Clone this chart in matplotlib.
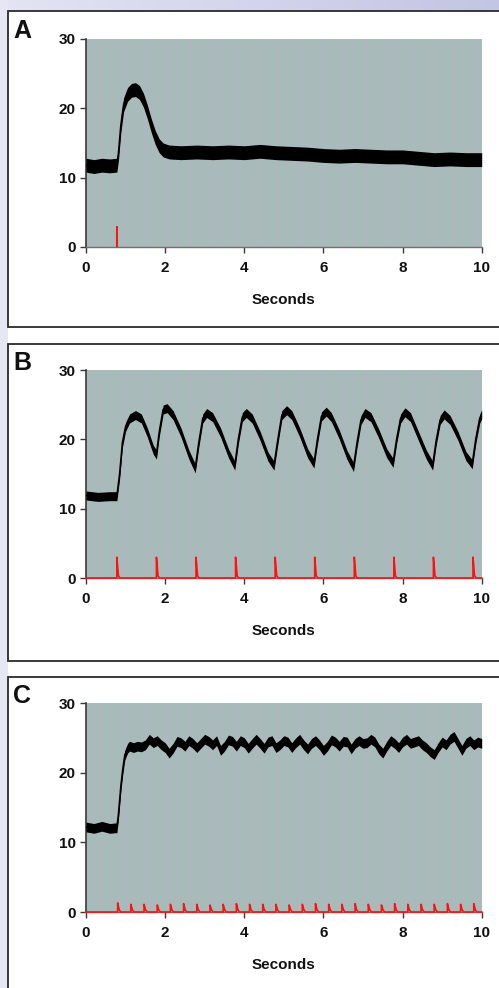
import numpy as np
import matplotlib
matplotlib.use("Agg")
from matplotlib import pyplot as plt
from matplotlib.patches import Rectangle

plt.rcParams['font.family'] = ['Liberation Sans', 'DejaVu Sans']

# --- panel A: single stimulus ---
tA = [0.0, 0.2, 0.4, 0.6, 0.78, 0.82, 0.88, 0.95, 1.05, 1.15, 1.25, 1.35, 1.45, 1.55,
      1.65, 1.75, 1.85, 1.95, 2.1, 2.4, 2.8, 3.2, 3.6, 4.0, 4.4, 4.8, 5.2, 5.6, 6.0,
      6.4, 6.8, 7.2, 7.6, 8.0, 8.4, 8.8, 9.2, 9.6, 10.0]
vA = [11.8, 11.6, 11.8, 11.7, 11.8, 13.5, 17.5, 20.5, 22.0, 22.6, 22.7, 22.3, 21.2, 19.5,
      17.5, 15.8, 14.6, 14.0, 13.7, 13.6, 13.7, 13.6, 13.7, 13.6, 13.8, 13.6, 13.5, 13.4, 13.2,
      13.1, 13.2, 13.1, 13.0, 13.0, 12.8, 12.6, 12.7, 12.6, 12.6]
stimA = [0.78]
stim_hA = [3.0]

# --- panel B: 1 Hz stimulation ---
tB = [0.0, 0.3, 0.6, 0.78, 0.85, 0.92, 1.0, 1.1, 1.25, 1.4, 1.55, 1.7, 1.78,
      1.85, 1.95, 2.05, 2.2, 2.4, 2.6, 2.76, 2.85, 2.95, 3.05, 3.2, 3.4, 3.6, 3.76,
      3.85, 3.95, 4.05, 4.2, 4.4, 4.6, 4.75, 4.85, 4.95, 5.07, 5.2, 5.4, 5.6, 5.76,
      5.85, 5.95, 6.07, 6.2, 6.4, 6.6, 6.76, 6.85, 6.95, 7.05, 7.2, 7.4, 7.6, 7.76,
      7.85, 7.95, 8.06, 8.2, 8.4, 8.6, 8.76, 8.85, 8.95, 9.05, 9.2, 9.4, 9.6, 9.76,
      9.85, 9.95, 10.0]
vB = [11.9, 11.7, 11.8, 11.8, 15.0, 19.5, 21.8, 23.0, 23.5, 23.0, 21.0, 18.5, 17.8,
      21.0, 24.3, 24.5, 23.5, 21.0, 17.8, 15.8, 19.5, 23.0, 23.8, 23.2, 21.0, 18.0, 16.2,
      20.0, 23.2, 23.8, 23.0, 20.5, 17.5, 16.2, 20.0, 23.5, 24.2, 23.5, 21.0, 18.0, 16.5,
      20.0, 23.3, 24.0, 23.2, 20.7, 17.7, 16.0, 19.5, 22.8, 23.8, 23.2, 20.8, 18.0, 16.6,
      20.0, 23.0, 23.9, 23.2, 20.5, 17.8, 16.2, 19.8, 22.8, 23.6, 22.8, 20.5, 17.6, 16.4,
      20.0, 23.0, 23.6]
stimB = [0.78, 1.78, 2.78, 3.78, 4.78, 5.78, 6.78, 7.78, 8.78, 9.78]
stim_hB = [3.0] * 10

# --- panel C: 3 Hz stimulation ---
tC = [0.0, 0.2, 0.4, 0.6, 0.78, 0.82, 0.88, 0.93, 0.98, 1.05,
      1.1, 1.2, 1.3, 1.4, 1.5, 1.6, 1.7, 1.8, 1.9, 2.0, 2.1, 2.2, 2.3, 2.4, 2.5, 2.6,
      2.7, 2.8, 2.9, 3.0, 3.1, 3.2, 3.3, 3.4, 3.5, 3.6, 3.7, 3.8, 3.9, 4.0, 4.1, 4.2,
      4.3, 4.4, 4.5, 4.6, 4.7, 4.8, 4.9, 5.0, 5.1, 5.2, 5.3, 5.4, 5.5, 5.6, 5.7, 5.8,
      5.9, 6.0, 6.1, 6.2, 6.3, 6.4, 6.5, 6.6, 6.7, 6.8, 6.9, 7.0, 7.1, 7.2, 7.3, 7.4,
      7.5, 7.6, 7.7, 7.8, 7.9, 8.0, 8.1, 8.2, 8.3, 8.4, 8.5, 8.6, 8.7, 8.8, 8.9, 9.0,
      9.1, 9.2, 9.3, 9.4, 9.5, 9.6, 9.7, 9.8, 9.9, 10.0]
vC = [12.2, 12.0, 12.3, 12.0, 12.1, 14.0, 18.0, 20.5, 22.5, 23.5,
      23.8, 23.6, 23.8, 23.7, 24.0, 24.8, 24.3, 24.6, 24.0, 23.6, 22.8, 23.5, 24.5, 24.3, 23.8, 24.6,
      24.2, 23.6, 24.2, 24.8, 24.5, 24.0, 24.6, 23.2, 23.8, 24.7, 24.5, 23.8, 24.6, 24.3, 23.5, 24.2,
      24.8, 24.2, 23.5, 24.4, 24.6, 23.6, 24.0, 24.6, 24.4, 23.6, 24.3, 24.8, 24.0, 23.4, 24.2, 24.6,
      24.0, 23.2, 23.8, 24.7, 24.4, 23.8, 24.5, 24.4, 23.4, 24.2, 24.6, 24.2, 24.3, 24.8, 24.4, 23.4,
      22.8, 23.8, 24.6, 24.2, 23.6, 24.4, 24.8, 24.2, 24.4, 24.6, 24.0, 23.6, 23.0, 22.6, 23.6, 24.4,
      24.0, 24.8, 25.2, 24.2, 23.2, 24.2, 24.6, 24.0, 24.4, 24.2]
stimC = [0.8 + k / 3 for k in range(28)]
stim_hC = [1.3, 1.1, 1.1, 1.0, 1.1, 1.2, 1.1, 1.0, 1.1, 1.2, 1.1, 1.1, 1.1, 1.0,
           1.1, 1.2, 1.1, 1.1, 1.2, 1.1, 1.0, 1.2, 1.1, 1.1, 1.1, 1.2, 1.1, 1.2]

panels = [
    ("A", tA, vA, stimA, stim_hA, 1.0, False),
    ("B", tB, vB, stimB, stim_hB, 0.65, True),
    ("C", tC, vC, stimC, stim_hC, 0.7, True),
]

W, H = 499, 988
fig = plt.figure(figsize=(W / 100, H / 100), dpi=100, facecolor='white')

# lavender page background (left strip and top strip)
fig.patches.append(Rectangle((0, 0), 8 / W, 1, transform=fig.transFigure,
                             facecolor='#e6e6f4', edgecolor='none', zorder=0))
top = fig.add_axes([0, 1 - 11 / H, 1, 11 / H], zorder=0)
grad = np.linspace(0, 1, 256).reshape(1, -1)
top.imshow(grad, aspect='auto', cmap=matplotlib.colors.LinearSegmentedColormap.from_list(
    'lav', ['#e4e4f4', '#c4c4e4']), extent=[0, 1, 0, 1])
top.axis('off')

# panel boxes (top, bottom in pixels)
boxes = [(11, 327), (344, 661), (677, 1010)]
for y0, y1 in boxes:
    fig.patches.append(Rectangle((8 / W, 1 - y1 / H), 1.2, (y1 - y0) / H,
                                 transform=fig.transFigure, facecolor='white',
                                 edgecolor='#2a2a2a', linewidth=1.3, zorder=1))

# plot areas (top, bottom in pixels)
areas = [(39, 247), (370, 578), (703, 912)]
x_left, x_right = 86, 481.7

# fine vertical streak texture of the plot area (about one pixel per column)
stripe = np.array([[0.0, 0.6, 0.3, 1.0, 0.2, 0.8, 0.5, 0.1, 0.9, 0.4, 0.7]])
tex = np.tile(stripe, (1, 36))
tex_cmap = matplotlib.colors.LinearSegmentedColormap.from_list(
    'tex', ['#a0c2b4', '#a9bab8', '#b2b4c6'])

for (letter, t, v, stim, sh, band, baseline), (ya, yb) in zip(panels, areas):
    ax = fig.add_axes([x_left / W, 1 - yb / H, (x_right - x_left) / W, (yb - ya) / H], zorder=2)
    ax.imshow(tex, aspect='auto', cmap=tex_cmap, extent=[0, 10, 0, 30],
              interpolation='nearest', zorder=0)
    t = np.array(t)
    v = np.array(v)
    ax.fill_between(t, v - band, v + band, color='black', linewidth=0, zorder=3)
    ax.plot(t, v, color='black', linewidth=1.2, zorder=3)

    if baseline:
        xs, ys = [0.0], [0.0]
        for s, h in zip(stim, sh):
            xs += [s, s, s + 0.04, s + 0.08]
            ys += [0.0, h, 0.3, 0.0]
        xs.append(10.0)
        ys.append(0.0)
        ax.plot(xs, ys, color='#ff1010', linewidth=1.2, zorder=4, clip_on=False)
    else:
        ax.vlines(stim, 0, sh, color='#ff1010', linewidth=1.4, zorder=4)

    ax.set_xlim(0, 10)
    ax.set_ylim(0, 30)
    ax.set_xticks([0, 2, 4, 6, 8, 10])
    ax.set_yticks([0, 10, 20, 30])
    for side in ('top', 'right'):
        ax.spines[side].set_visible(False)
    ax.spines['left'].set_color('#3a3a3a')
    ax.spines['left'].set_linewidth(1.2)
    ax.spines['bottom'].set_color('#707070')
    ax.spines['bottom'].set_linewidth(1.0)
    ax.tick_params(axis='both', direction='out', length=4.3, width=1.0, color='#3a3a3a',
                   labelsize=11)
    ax.tick_params(axis='x', pad=6)
    ax.tick_params(axis='y', pad=3)
    for lab in ax.get_xticklabels() + ax.get_yticklabels():
        lab.set_fontweight('bold')
        lab.set_color('#111111')
    ax.text(0.5, -0.255, "Seconds", transform=ax.transAxes, ha='center', va='center',
            fontsize=11, fontweight='bold', color='#111111')
    fig.text(13 / W, 1 - (ya - 7.5) / H, letter, ha='left', va='center',
             fontsize=18, fontweight='bold', color='#111111')

fig.savefig('out.png', dpi=100, facecolor=fig.get_facecolor())
